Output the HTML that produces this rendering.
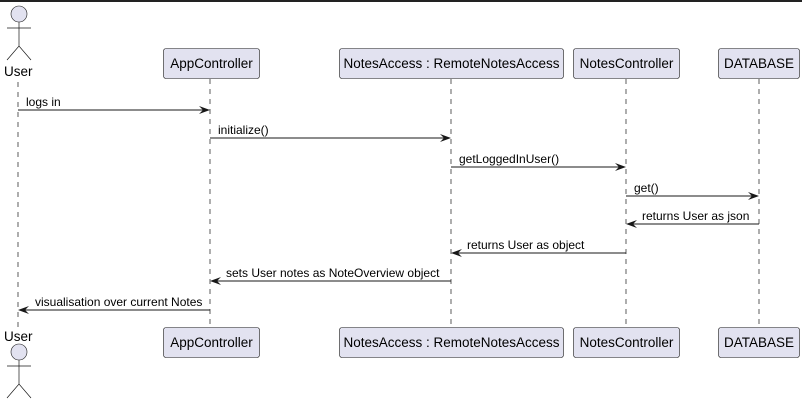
<!DOCTYPE html>
<html><head><style>body{margin:0;background:#fff}svg{display:block}</style></head><body>
<svg width="802" height="402" xmlns="http://www.w3.org/2000/svg" font-family="Liberation Sans, sans-serif">
<rect x="0" y="0" width="802" height="2" fill="#222"/>
<g stroke="#181818" stroke-width="0.7" stroke-dasharray="5,5">
<line x1="18" y1="82" x2="18" y2="328"/>
<line x1="210" y1="79" x2="210" y2="327"/>
<line x1="451" y1="79" x2="451" y2="327"/>
<line x1="626" y1="79" x2="626" y2="327"/>
<line x1="759" y1="79" x2="759" y2="327"/>
</g>
<g fill="#E2E2F0" stroke="#181818" stroke-width="0.6">
<circle cx="19" cy="14" r="8"/>
<circle cx="19" cy="352" r="8"/>
</g>
<g stroke="#181818" stroke-width="0.7" fill="none">
<path d="M19 22V46M7 28H31M7 60L19 46L31 60"/>
<path d="M19 360V384M7 366H31M7 398L19 384L31 398"/>
</g>
<g font-size="13.5" fill="#000">
<text x="4" y="76">User</text>
<text x="4" y="341">User</text>
</g>
<g fill="#E2E2F0" stroke="#181818" stroke-width="0.6">
<rect x="163.5" y="48.5" width="96" height="30" rx="2.5"/>
<rect x="339.5" y="48.5" width="224" height="30" rx="2.5"/>
<rect x="573.5" y="48.5" width="106" height="30" rx="2.5"/>
<rect x="718.5" y="48.5" width="81" height="30" rx="2.5"/>
<rect x="163.5" y="327.5" width="96" height="30" rx="2.5"/>
<rect x="339.5" y="327.5" width="224" height="30" rx="2.5"/>
<rect x="573.5" y="327.5" width="106" height="30" rx="2.5"/>
<rect x="718.5" y="327.5" width="81" height="30" rx="2.5"/>
</g>
<g font-size="13.5" fill="#000" text-anchor="middle">
<text x="211.5" y="68">AppController</text>
<text x="451.5" y="68">NotesAccess : RemoteNotesAccess</text>
<text x="626.5" y="68">NotesController</text>
<text x="759" y="68">DATABASE</text>
<text x="211.5" y="347">AppController</text>
<text x="451.5" y="347">NotesAccess : RemoteNotesAccess</text>
<text x="626.5" y="347">NotesController</text>
<text x="759" y="347">DATABASE</text>
</g>
<g stroke="#181818" stroke-width="1">
<line x1="18" y1="110" x2="208" y2="110"/>
<line x1="210" y1="138" x2="449" y2="138"/>
<line x1="451" y1="167" x2="624" y2="167"/>
<line x1="626" y1="196" x2="757" y2="196"/>
<line x1="759" y1="224" x2="628" y2="224"/>
<line x1="626" y1="253" x2="453" y2="253"/>
<line x1="451" y1="281" x2="212" y2="281"/>
<line x1="210" y1="310" x2="20" y2="310"/>
</g>
<g fill="#181818">
<path d="M210 110l-11-4 4 4-4 4z"/>
<path d="M451 138l-11-4 4 4-4 4z"/>
<path d="M626 167l-11-4 4 4-4 4z"/>
<path d="M759 196l-11-4 4 4-4 4z"/>
<path d="M626 224l11-4-4 4 4 4z"/>
<path d="M451 253l11-4-4 4 4 4z"/>
<path d="M210 281l11-4-4 4 4 4z"/>
<path d="M18 310l11-4-4 4 4 4z"/>
</g>
<g font-size="12" fill="#000">
<text x="26" y="106">logs in</text>
<text x="218" y="134">initialize()</text>
<text x="459" y="163">getLoggedInUser()</text>
<text x="634" y="192">get()</text>
<text x="642" y="220">returns User as json</text>
<text x="467" y="249">returns User as object</text>
<text x="226" y="277">sets User notes as NoteOverview object</text>
<text x="35" y="306">visualisation over current Notes</text>
</g>
</svg>
</body></html>
